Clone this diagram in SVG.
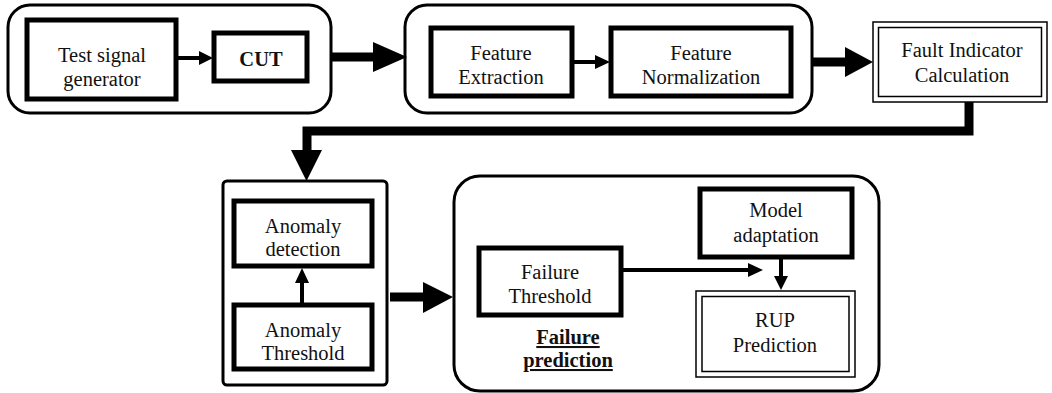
<svg xmlns="http://www.w3.org/2000/svg" width="1052" height="393" viewBox="0 0 1052 393">
<style>
.grp{fill:none;stroke:#000;stroke-width:3}
.box{fill:#fff;stroke:#000;stroke-width:5}
.thin{fill:none;stroke:#000;stroke-width:1.5}
.t{font-size:20.5px;fill:#111;text-anchor:middle}
.b{font-weight:bold}
.ln{fill:none;stroke:#000;stroke-width:4}
.fat{fill:none;stroke:#000;stroke-width:9}
.ah{fill:#000}
</style>
<rect width="1052" height="393" fill="#fff"/>
<g id="group-source">
<rect class="grp" x="8" y="5" width="323" height="108" rx="22"/>
</g>
<g id="group-features">
<rect class="grp" x="405" y="5" width="407" height="108" rx="22"/>
</g>
<g id="group-anomaly">
<rect class="grp" x="223" y="181" width="164" height="204" rx="4"/>
</g>
<g id="group-failure">
<rect class="grp" x="454" y="176" width="425" height="215" rx="26"/>
</g>
<g id="connectors">
<line class="ln" x1="177" y1="58" x2="201" y2="58"/>
<polygon class="ah" points="199,51 213,58 199,65"/>
<line class="fat" x1="332" y1="57" x2="376" y2="57"/>
<polygon class="ah" points="373,42 407,57 373,72"/>
<line class="ln" x1="573" y1="62" x2="597" y2="62"/>
<polygon class="ah" points="595,55 610,62 595,69"/>
<line class="fat" x1="812" y1="62" x2="848" y2="62"/>
<polygon class="ah" points="845,47 873,62 845,77"/>
<polyline class="fat" points="969,102 969,131 307,131 307,152"/>
<polygon class="ah" points="291,150 322,150 306.5,181"/>
<line class="ln" x1="302" y1="303" x2="302" y2="281"/>
<polygon class="ah" points="295,283 302,268 309,283"/>
<line class="fat" x1="390" y1="297" x2="426" y2="297"/>
<polygon class="ah" points="423,282 453,297 423,313"/>
<line class="ln" x1="622" y1="270" x2="750" y2="270"/>
<polygon class="ah" points="748,263 763,270 748,277"/>
<line class="ln" x1="781" y1="258" x2="781" y2="278"/>
<polygon class="ah" points="774,276 781,290 788,276"/>
</g>
<g font-family="Liberation Serif, DejaVu Serif, serif">
<g id="node-test-signal">
<rect class="box" x="27" y="20" width="149" height="79"/>
<text class="t" x="102" y="62">Test signal</text>
<text class="t" x="102" y="86">generator</text>
</g>
<g id="node-cut">
<rect class="box" x="214" y="33" width="93" height="48"/>
<text class="t b" x="261" y="66">CUT</text>
</g>
<g id="node-feature-extraction">
<rect class="box" x="431" y="28" width="141" height="68"/>
<text class="t" x="501" y="60">Feature</text>
<text class="t" x="501" y="84">Extraction</text>
</g>
<g id="node-feature-normalization">
<rect class="box" x="611" y="28" width="180" height="68"/>
<text class="t" x="701" y="60">Feature</text>
<text class="t" x="701" y="84">Normalization</text>
</g>
<g id="node-fault-indicator">
<rect fill="#fff" stroke="#000" stroke-width="1.5" x="873" y="22" width="174" height="80"/>
<rect class="thin" stroke-width="3" x="878.5" y="27.5" width="163" height="69"/>
<text class="t" x="962" y="57">Fault Indicator</text>
<text class="t" x="962" y="82">Calculation</text>
</g>
<g id="node-anomaly-detection">
<rect class="box" x="234" y="201" width="138" height="65"/>
<text class="t" x="303" y="233">Anomaly</text>
<text class="t" x="303" y="256">detection</text>
</g>
<g id="node-anomaly-threshold">
<rect class="box" x="234" y="305" width="138" height="64"/>
<text class="t" x="303" y="337">Anomaly</text>
<text class="t" x="303" y="360">Threshold</text>
</g>
<g id="node-failure-threshold">
<rect class="box" x="479" y="248" width="142" height="67"/>
<text class="t" x="550" y="279">Failure</text>
<text class="t" x="550" y="303">Threshold</text>
</g>
<g id="node-model-adaptation">
<rect class="box" x="700" y="189" width="152" height="68"/>
<text class="t" x="776" y="217">Model</text>
<text class="t" x="776" y="242">adaptation</text>
</g>
<g id="node-rup">
<rect fill="#fff" stroke="#000" stroke-width="1.5" x="696" y="291" width="159" height="86"/>
<rect class="thin" stroke-width="3" x="702" y="296.5" width="147" height="75"/>
<text class="t" x="775" y="327">RUP</text>
<text class="t" x="775" y="352">Prediction</text>
</g>
<g id="label-failure-prediction">
<text class="t b" x="568" y="344" text-decoration="underline">Failure</text>
<text class="t b" x="568" y="367" text-decoration="underline">prediction</text>
</g>
</g>
</svg>
